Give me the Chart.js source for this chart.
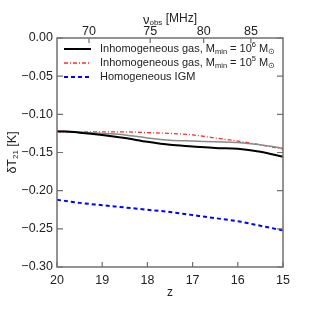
<!DOCTYPE html>
<html>
<head>
<meta charset="utf-8">
<script src="https://cdn.jsdelivr.net/npm/chart.js@4/dist/chart.umd.min.js"></script>
<style>
html,body{margin:0;padding:0;background:#fff;}
#wrap{width:315px;height:315px;}
</style>
</head>
<body>
<div id="wrap"><canvas id="c" width="315" height="315"></canvas></div>
<script>
const zValues   = [20, 19.5, 19, 18.5, 18, 17.5, 17, 16.5, 16, 15.5, 15];
const inhomo6   = [-0.122, -0.124, -0.127, -0.131, -0.136, -0.140, -0.142, -0.144, -0.145, -0.149, -0.1555];
const inhomo6b  = [-0.122, -0.123, -0.125, -0.127, -0.131, -0.134, -0.135, -0.136, -0.137, -0.140, -0.1445];
const inhomo5   = [-0.123, -0.123, -0.123, -0.123, -0.124, -0.125, -0.127, -0.131, -0.135, -0.140, -0.1455];
const homoIGM   = [-0.212, -0.216, -0.219, -0.222, -0.225, -0.228, -0.232, -0.236, -0.240, -0.246, -0.252];
const zTicks    = [20, 19, 18, 17, 16, 15];
const nuTicks   = [70, 75, 80, 85];
const yTicks    = [0, -0.05, -0.10, -0.15, -0.20, -0.25, -0.30];
const NU21 = 1420.40575;

const FONT = "'Liberation Sans', Arial, sans-serif";
const AXIS_COLOR = '#707070';
const TEXT_COLOR = '#222';

function pts(arr){ return zValues.map((z,i)=>({x:z, y:arr[i]})); }

function drawRich(ctx, parts, x, y, align){
  let w = 0;
  parts.forEach(p=>{ ctx.font = p.size + 'px ' + FONT; w += ctx.measureText(p.t).width; });
  let cx = align === 'center' ? x - w/2 : x;
  ctx.textBaseline = 'middle';
  ctx.textAlign = 'left';
  parts.forEach(p=>{
    ctx.font = p.size + 'px ' + FONT;
    ctx.fillText(p.t, cx, y + (p.dy||0));
    cx += ctx.measureText(p.t).width;
  });
}

const decor = {
  id: 'decor',
  afterDraw(chart){
    const ctx = chart.ctx;
    const a = chart.chartArea;
    const xs = chart.scales.x, x2 = chart.scales.x2, ys = chart.scales.y;
    ctx.save();
    ctx.strokeStyle = AXIS_COLOR;
    ctx.lineWidth = 1.5;
    ctx.strokeRect(a.left, a.top, a.right - a.left, a.bottom - a.top);
    ctx.lineWidth = 1.2;
    ctx.beginPath();
    zTicks.forEach(z=>{
      const px = xs.getPixelForValue(z);
      ctx.moveTo(px, a.bottom); ctx.lineTo(px, a.bottom - 5);
    });
    nuTicks.forEach(nu=>{
      const px = x2.getPixelForValue(NU21/nu - 1);
      ctx.moveTo(px, a.top); ctx.lineTo(px, a.top + 5);
    });
    yTicks.forEach(v=>{
      const py = ys.getPixelForValue(v);
      ctx.moveTo(a.left, py); ctx.lineTo(a.left + 6, py);
      ctx.moveTo(a.right, py); ctx.lineTo(a.right - 6, py);
    });
    ctx.stroke();

    ctx.fillStyle = TEXT_COLOR;
    const cxm = (a.left + a.right)/2;
    drawRich(ctx, [{t:'z', size:12}], cxm, 293, 'center');
    drawRich(ctx, [{t:'\u03BD', size:13, dy:1}, {t:'obs', size:8, dy:4}, {t:' [MHz]', size:12}], cxm, 19, 'center');
    ctx.save();
    ctx.translate(13, (a.top + a.bottom)/2);
    ctx.rotate(-Math.PI/2);
    drawRich(ctx, [{t:'\u03B4T', size:12.5}, {t:'21', size:8, dy:3}, {t:' [K]', size:12.5}], 0, 0, 'center');
    ctx.restore();

    const ds = chart.data.datasets;
    const rows = [
      {ds: ds[0], parts:[{t:'Inhomogeneous gas, M', size:11},{t:'min', size:7.5, dy:3},{t:' = 10', size:11},{t:'6', size:7.5, dy:-4},{t:' M', size:11},{t:'\u2299', size:7.5, dy:3}]},
      {ds: ds[2], parts:[{t:'Inhomogeneous gas, M', size:11},{t:'min', size:7.5, dy:3},{t:' = 10', size:11},{t:'5', size:7.5, dy:-4},{t:' M', size:11},{t:'\u2299', size:7.5, dy:3}]},
      {ds: ds[3], parts:[{t:'Homogeneous IGM', size:11}]}
    ];
    const ly = [49, 63, 77];
    rows.forEach((r,i)=>{
      ctx.save();
      ctx.strokeStyle = r.ds.borderColor;
      ctx.lineWidth = r.ds.borderWidth;
      ctx.setLineDash(r.ds.borderDash || []);
      ctx.beginPath();
      ctx.moveTo(a.left + 7, ly[i]); ctx.lineTo(a.left + 34, ly[i]);
      ctx.stroke();
      ctx.restore();
      ctx.fillStyle = TEXT_COLOR;
      drawRich(ctx, r.parts, a.left + 43, ly[i], 'left');
    });
    ctx.restore();
  }
};

new Chart(document.getElementById('c'), {
  type: 'line',
  data: {
    datasets: [
      {label:'Inhomogeneous gas, Mmin = 10^6 Msun', data: pts(inhomo6), borderColor:'#000', borderWidth:2, pointRadius:0, tension:0.4, cubicInterpolationMode:'monotone'},
      {label:'', data: pts(inhomo6b), borderColor:'#8a8a8a', borderWidth:1.5, pointRadius:0, tension:0.4, cubicInterpolationMode:'monotone'},
      {label:'Inhomogeneous gas, Mmin = 10^5 Msun', data: pts(inhomo5), borderColor:'#ff2a2a', borderWidth:1.3, borderDash:[4,2,1,2], pointRadius:0, tension:0.4, cubicInterpolationMode:'monotone'},
      {label:'Homogeneous IGM', data: pts(homoIGM), borderColor:'#0000ff', borderWidth:2, borderDash:[4,3], pointRadius:0, tension:0.4, cubicInterpolationMode:'monotone'}
    ]
  },
  options: {
    responsive:false,
    animation:false,
    devicePixelRatio:1,
    layout:{padding:0},
    plugins:{legend:{display:false}, tooltip:{enabled:false}},
    scales:{
      x:{
        type:'linear', position:'bottom', min:15, max:20, reverse:true,
        afterBuildTicks: s => { s.ticks = zTicks.map(v=>({value:v})); },
        afterFit: s => { s.height = 48; },
        grid:{display:false, drawTicks:false},
        border:{display:false},
        ticks:{color:TEXT_COLOR, font:{family:FONT, size:12.5}, padding:6, autoSkip:false, maxRotation:0, callback:v=>String(v)}
      },
      x2:{
        type:'linear', position:'top', min:15, max:20, reverse:true,
        afterBuildTicks: s => { s.ticks = nuTicks.map(nu=>({value: NU21/nu - 1})); },
        afterFit: s => { s.height = 38; },
        grid:{display:false, drawTicks:false},
        border:{display:false},
        ticks:{color:TEXT_COLOR, font:{family:FONT, size:12.5}, padding:-1, autoSkip:false, maxRotation:0,
          callback:v=>String(Math.round(NU21/(1+v)))}
      },
      y:{
        type:'linear', position:'left', min:-0.30, max:0,
        afterBuildTicks: s => { s.ticks = yTicks.map(v=>({value:v})); },
        afterFit: s => { s.width = 57; },
        grid:{display:false, drawTicks:false},
        border:{display:false},
        ticks:{color:TEXT_COLOR, font:{family:FONT, size:12.5}, padding:4, autoSkip:false,
          callback:v=> (v < -1e-9 ? '\u2212' : '') + Math.abs(v).toFixed(2)}
      },
      y2:{
        type:'linear', position:'right', min:-0.30, max:0,
        afterFit: s => { s.width = 32; },
        grid:{display:false, drawTicks:false},
        border:{display:false},
        ticks:{display:false}
      }
    }
  },
  plugins:[decor]
});
</script>
</body>
</html>
